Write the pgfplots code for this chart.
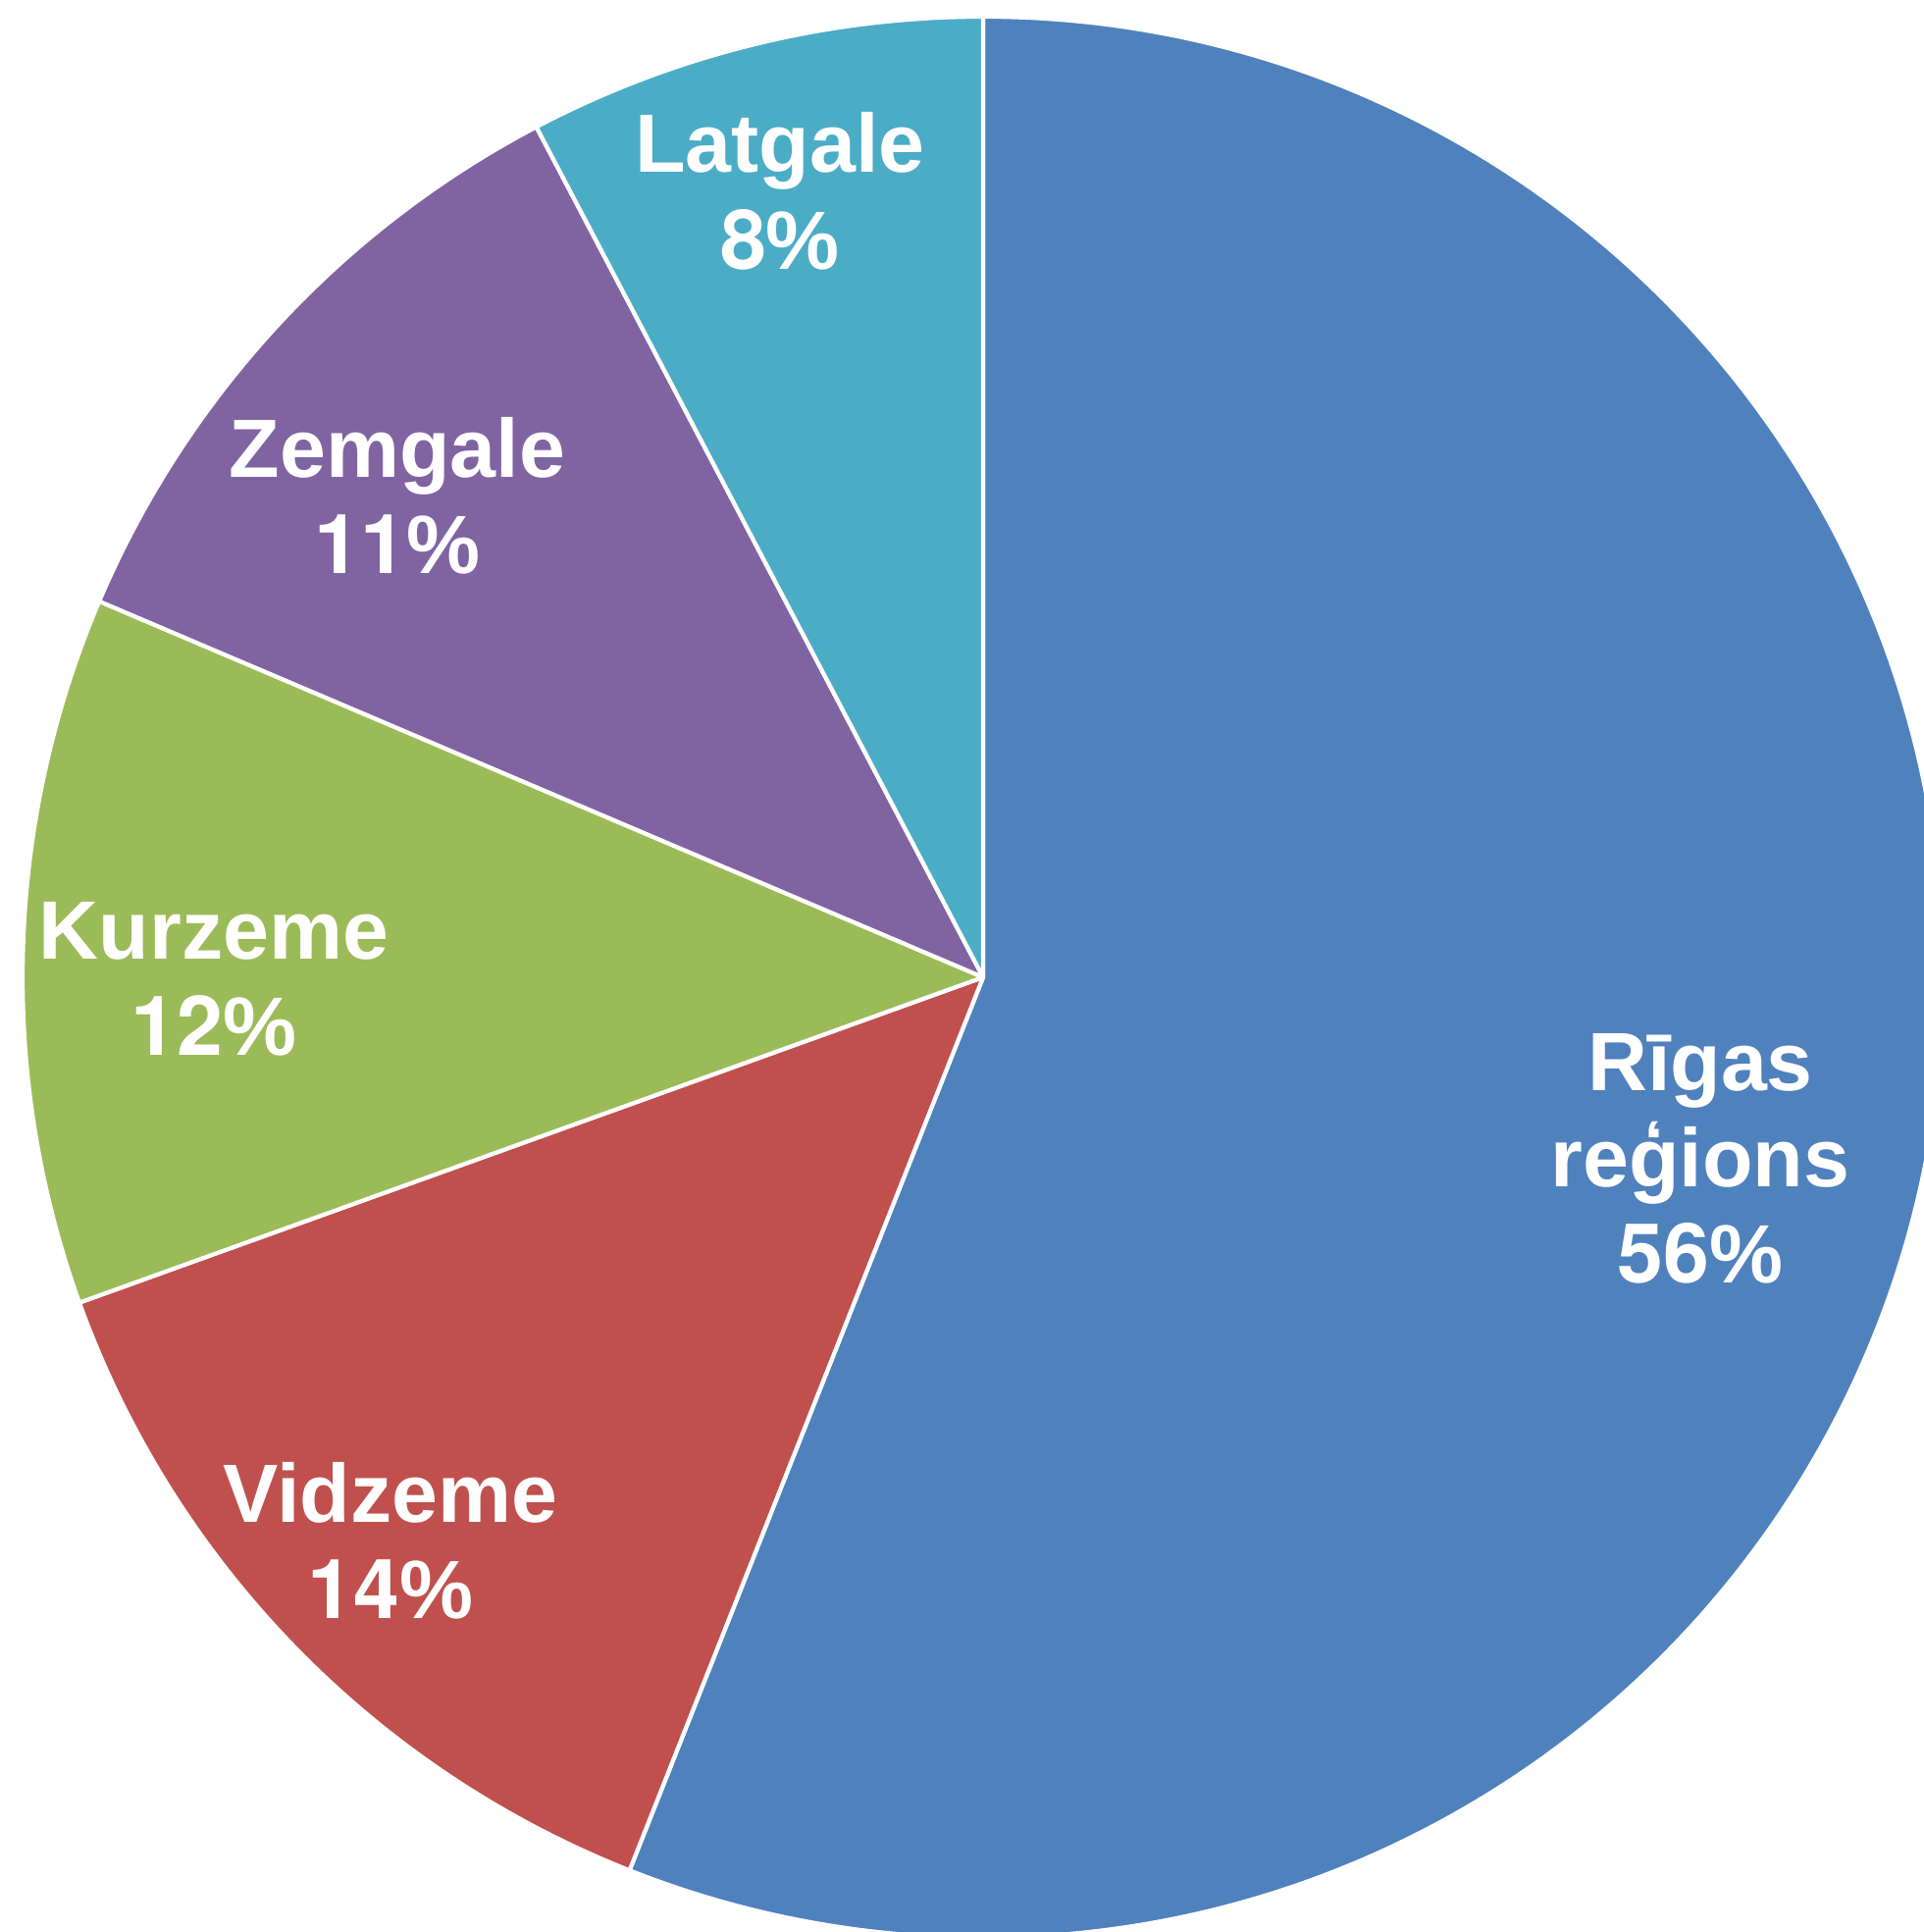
\documentclass[border=0pt]{standalone}
\usepackage{fontspec}
\setmainfont{Liberation Sans}
\newfontfamily\numfont{TeX Gyre Heros}
\usepackage{pgfplots}
\usepackage{pgfplotstable}
\pgfplotsset{compat=1.18}
\definecolor{c0}{HTML}{4F81BD}
\definecolor{c1}{HTML}{C0504D}
\definecolor{c2}{HTML}{9BBB59}
\definecolor{c3}{HTML}{8064A2}
\definecolor{c4}{HTML}{4BACC6}
\pgfplotstableread{
region value
Riga 56.0
Vidzeme 13.5
Kurzeme 11.9
Zemgale 10.9
Latgale 7.7
}\piedata
\newcommand\pct[1]{{\numfont\bfseries #1}\%}
\begin{document}
\begin{tikzpicture}
\begin{axis}[hide axis, scale only axis, width=19.6cm, height=19.69cm,
  xmin=0, xmax=1960, ymin=0, ymax=1969, clip=false]
\addplot[draw=none] coordinates {(0,0)};
\coordinate (bl) at (axis cs:0,0);
\coordinate (tr) at (axis cs:1960,1969);
\pgfplotsextra{
  \pgfplotstablegetrowsof{\piedata}
  \pgfmathtruncatemacro\N{\pgfplotsretval-1}
  \gdef\angA{90}
  \foreach \i in {0,...,\N}{
    \pgfplotstablegetelem{\i}{value}\of\piedata
    \pgfmathsetmacro\angB{\angA-3.6*\pgfplotsretval}
    \fill[fill=c\i, draw=white, line width=1.2pt, line join=round]
      (axis cs:1002,973) -- ++(\angA:9.79cm)
      arc[start angle=\angA, end angle=\angB, radius=9.79cm] -- cycle;
    \xdef\angA{\angB}
  }
}
\tikzset{lab/.style={anchor=base, text=white, inner sep=0pt,
  font=\fontsize{24}{28}\selectfont\bfseries}}
\node[lab] at (axis cs:795,1793) {Latgale};
\node[lab] at (axis cs:795,1694) {\pct{8}};
\node[lab] at (axis cs:405,1482) {Zemgale};
\node[lab] at (axis cs:405,1384) {\pct{11}};
\node[lab] at (axis cs:218,991) {Kurzeme};
\node[lab] at (axis cs:218,893) {\pct{12}};
\node[lab] at (axis cs:398,417) {Vidzeme};
\node[lab] at (axis cs:398,319) {\pct{14}};
\node[lab] at (axis cs:1733,857) {Rīgas};
\node[lab] at (axis cs:1733,759) {reģions};
\node[lab] at (axis cs:1733,661) {\pct{56}};
\end{axis}
\pgfresetboundingbox
\path[use as bounding box] (bl) rectangle (tr);
\end{tikzpicture}
\end{document}
